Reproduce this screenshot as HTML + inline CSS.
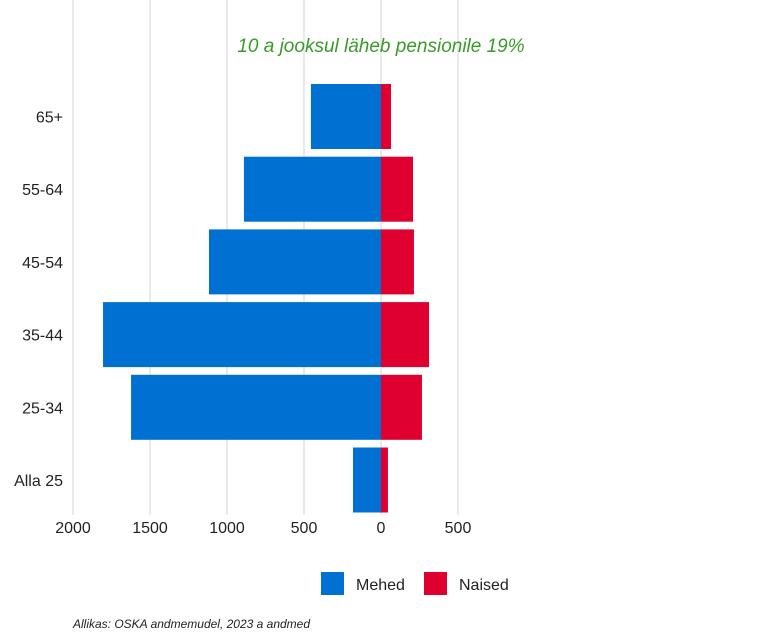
<!DOCTYPE html>
<html><head><meta charset="utf-8"><style>
body{margin:0;background:#fff;font-family:"Liberation Sans",sans-serif;}
svg{display:block}
</style></head><body>
<svg id="chart" width="768" height="640">
<g id="grid"></g><g id="bars"></g><g id="labels"></g>
<text x="381" y="52" text-anchor="middle" font-size="19" font-style="italic" fill="#3a9a2a">10 a jooksul läheb pensionile 19%</text>
<g>
<rect x="321" y="572" width="23" height="23" fill="#0070d2"></rect>
<text x="356" y="590" font-size="16" fill="#222">Mehed</text>
<rect x="424" y="572" width="23" height="23" fill="#e0002f"></rect>
<text x="459" y="590" font-size="16" fill="#222">Naised</text>
</g>
<text x="73" y="628" font-size="12" font-style="italic" fill="#222">Allikas: OSKA andmemudel, 2023 a andmed</text>
</svg>
<script>
const categories=["65+","55-64","45-54","35-44","25-34","Alla 25"];
const men=[455,890,1117,1805,1623,182];
const women=[65,208,214,312,266,45];
const ticks=[2000,1500,1000,500,0,500];
const tickVals=[-2000,-1500,-1000,-500,0,500];
const ns="http://www.w3.org/2000/svg";
const x0=381,k=77/500,top0=81,band=72.7,bh=65;
const X=v=>x0+v*k;
function mk(t,a,p){const e=document.createElementNS(ns,t);for(const n in a)e.setAttribute(n,a[n]);p.appendChild(e);return e;}
const g=document.getElementById('grid'),b=document.getElementById('bars'),l=document.getElementById('labels');
tickVals.forEach((v,i)=>{
 const ln=mk('line',{x1:X(v),x2:X(v),y1:0,y2:515,stroke:'#e3e3e3','stroke-width':1.5},g);
 
 
 const t=mk('text',{x:X(v),y:533,'text-anchor':'middle','font-size':16,fill:'#222'},l);
 t.textContent=ticks[i];
 
 
});
categories.forEach((c,i)=>{
 const y=top0+i*band+3;
 const r1=mk('rect',{x:X(-men[i]),y:y,width:men[i]*k,height:bh,fill:'#0070d2'},b);
 
 
 const r2=mk('rect',{x:x0,y:y,width:women[i]*k,height:bh,fill:'#e0002f'},b);
 
 
 const t=mk('text',{x:63,y:y+bh/2+6,'text-anchor':'end','font-size':16,fill:'#222'},l);
 t.textContent=c;
 
 
});
</script>
</body></html>
